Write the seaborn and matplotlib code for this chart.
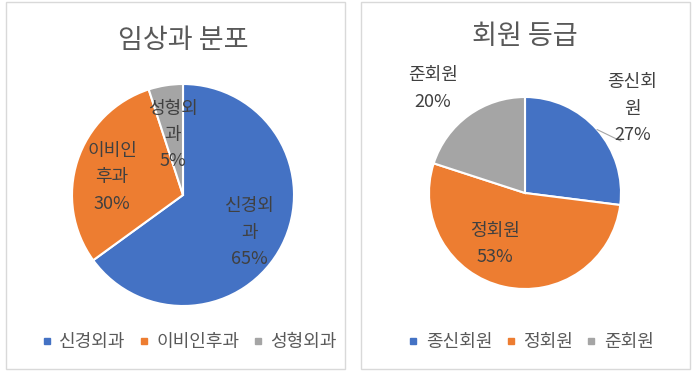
import numpy as np
import seaborn as sns
import matplotlib.pyplot as plt
from matplotlib.lines import Line2D
from matplotlib.patches import Rectangle

sns.set_theme(style="white")
plt.rcParams['font.family'] = ['Noto Sans CJK KR', 'DejaVu Sans']

colors = ["#4472C4", "#ED7D31", "#A5A5A5"]

# left chart
dept_title = "임상과 분포"
dept_names = ["신경외과", "이비인후과", "성형외과"]
dept_labels = ["신경외\n과", "이비인\n후과", "성형외\n과"]
dept_values = [65, 30, 5]
dept_label_xy = [(0.60, -0.34), (-0.64, 0.16), (-0.09, 0.54)]

# right chart
grade_title = "회원 등급"
grade_names = ["종신회원", "정회원", "준회원"]
grade_labels = ["종신회\n원", "정회원", "준회원"]
grade_values = [27, 53, 20]
grade_label_xy = [(1.12, 0.88), (-0.31, -0.53), (-0.96, 1.09)]

W, H = 694, 372
fig = plt.figure(figsize=(W / 100, H / 100), dpi=100)
fig.patch.set_facecolor("white")

# panel frames
for x0, x1 in [(6, 345), (361, 690)]:
    fig.add_artist(Rectangle((x0 / W, 1 - 369 / H), (x1 - x0) / W, 367 / H,
                             transform=fig.transFigure, fill=False,
                             edgecolor="#D9D9D9", linewidth=1))


def draw_pie(cx, cy, r, values, names, labels, label_xy, title, title_y, leg_x, leader=None):
    ax = fig.add_axes([(cx - r) / W, 1 - (cy + r) / H, 2 * r / W, 2 * r / H])
    wedges, _ = ax.pie(values, colors=colors, startangle=90, counterclock=False,
                       radius=1, wedgeprops=dict(edgecolor="white", linewidth=1.5))
    ax.set_xlim(-1, 1)
    ax.set_ylim(-1, 1)
    ax.axis("off")
    for lab, v, (x, y) in zip(labels, values, label_xy):
        ax.text(x, y, f"{lab}\n{v}%", ha="center", va="center", fontsize=13,
                color="#404040", linespacing=1.6, clip_on=False)
    if leader is not None:
        ax.plot(*zip(*leader), color="#A6A6A6", linewidth=0.8, clip_on=False)
    fig.text(cx / W, 1 - title_y / H, title, ha="center", va="center",
             fontsize=19.5, color="#595959")
    handles = [Line2D([], [], marker="s", linestyle="none", markersize=5,
                      markerfacecolor=c, markeredgecolor=c) for c in colors]
    fig.legend(handles, names, loc="center", bbox_to_anchor=(leg_x / W, 1 - 342 / H),
               ncol=3, frameon=False, fontsize=13, handletextpad=0.3,
               columnspacing=0.6, handlelength=0.8, labelcolor="#595959")
    return ax


draw_pie(183, 195, 111, dept_values, dept_names, dept_labels, dept_label_xy,
         dept_title, 40, 188)

# leader line from the 종신회원 slice to its label
ang = np.deg2rad(90 - grade_values[0] / 100 * 360 / 2)
edge = (np.cos(ang), np.sin(ang))
draw_pie(525, 193, 96, grade_values, grade_names, grade_labels, grade_label_xy,
         grade_title, 37, 530, leader=[edge, (1.0, 0.54)])

fig.savefig("out.png", dpi=100)
